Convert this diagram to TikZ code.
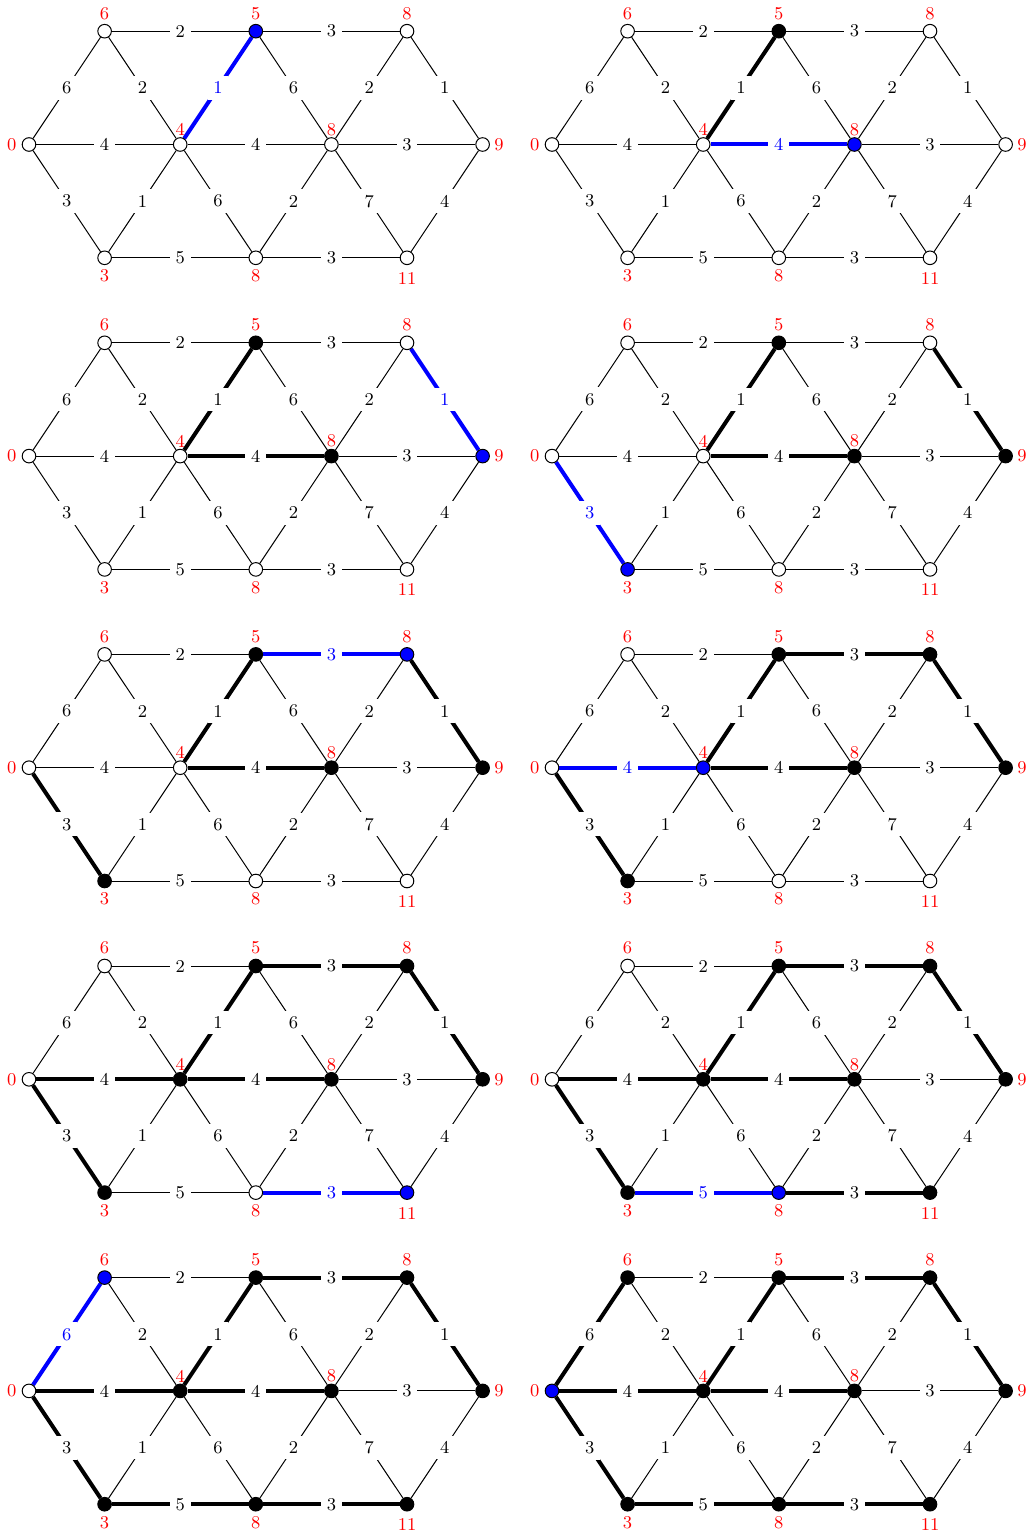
\documentclass[tikz,border=0pt]{standalone}
\pgfdeclarelayer{bg}
\pgfsetlayers{bg,main}
\newcommand\panelfont{\fontsize{9}{11}\selectfont}
\def\alledges{a/b/6, b/c/2, c/d/3, a/e/4, e/f/4, f/g/3, a/h/3, h/i/5, i/j/3, b/e/2, e/c/1, c/f/6, f/d/2, d/g/1, e/h/1, e/i/6, f/i/2, f/j/7, g/j/4}
\tikzset{
  vtx/.style={circle,draw=black,line width=0.5pt,fill=white,minimum size=6.8pt,inner sep=0pt},
  bv/.style={fill=black},
  blv/.style={fill=blue},
  rl/.style={text=red,inner sep=0pt,font=\panelfont},
  thinedge/.style={line width=0.5pt,black},
  thickedge/.style={line width=2pt,black},
  blueedge/.style={line width=2pt,blue},
  wlab/.style={fill=white,inner sep=2.9pt,font=\panelfont,text=black},
  bluelab/.style={wlab,text=blue},
  sa/.style={},sb/.style={},sc/.style={},sd/.style={},se/.style={},
  sf/.style={},sg/.style={},sh/.style={},si/.style={},sj/.style={}
}
\newcommand\drawpanel[5]{%
\begin{scope}[shift={(#2,#3)}]
\node[vtx,sa,label={[rl,label distance=2.5pt]left:0}] (#1a) at (0,0) {};
\node[vtx,sb,label={[rl,label distance=2pt]above:6}] (#1b) at (75.6,-113.3) {};
\node[vtx,sc,label={[rl,label distance=2pt]above:5}] (#1c) at (226.8,-113.3) {};
\node[vtx,sd,label={[rl,label distance=2pt]above:8}] (#1d) at (378,-113.3) {};
\node[vtx,se,label={[rl,label distance=0.6pt]above:4}] (#1e) at (151.2,0) {};
\node[vtx,sf,label={[rl,label distance=0.6pt]above:8}] (#1f) at (302.4,0) {};
\node[vtx,sg,label={[rl,label distance=2pt]right:9}] (#1g) at (453.6,0) {};
\node[vtx,sh,label={[rl,label distance=2.1pt]below:3}] (#1h) at (75.6,113.3) {};
\node[vtx,si,label={[rl,label distance=2.1pt]below:8}] (#1i) at (226.8,113.3) {};
\node[vtx,sj,label={[rl,label distance=3.35pt]below:11}] (#1j) at (378,113.3) {};
\def\tmpa{#4}\def\tmpb{#5}%
\begin{pgfonlayer}{bg}
\foreach \u/\v/\w in \alledges {\draw[thinedge] (#1\u) -- (#1\v);}
\ifx\tmpa\empty\else
\foreach \u/\v in {#4} {\draw[thickedge] (#1\u) -- (#1\v);}\fi
\ifx\tmpb\empty\else
\foreach \u/\v/\w in {#5} {\draw[blueedge] (#1\u) -- (#1\v);}\fi
\end{pgfonlayer}
\foreach \u/\v/\w in \alledges {\path (#1\u) -- node[wlab] (#1\u\v) {\w} (#1\v);}
\ifx\tmpb\empty\else
\foreach \u/\v/\w in {#5} {\path (#1\u) -- node[bluelab] (#1\u\v blue) {\w} (#1\v);}\fi
\end{scope}}
\begin{document}
\begin{tikzpicture}[x=0.5pt,y=-0.5pt]
\useasboundingbox (0,0) rectangle (1028,1534);
\begin{scope}\tikzset{sc/.style={blv}}
\drawpanel{p1}{29}{144.5}{}{e/c/1}\end{scope}
\begin{scope}\tikzset{sc/.style={bv},sf/.style={blv}}
\drawpanel{p2}{552}{144.5}{e/c}{e/f/4}\end{scope}
\begin{scope}\tikzset{sc/.style={bv},sf/.style={bv},sg/.style={blv}}
\drawpanel{p3}{29}{456.1}{e/c,e/f}{d/g/1}\end{scope}
\begin{scope}\tikzset{sc/.style={bv},sf/.style={bv},sg/.style={bv},sh/.style={blv}}
\drawpanel{p4}{552}{456.1}{e/c,e/f,d/g}{a/h/3}\end{scope}
\begin{scope}\tikzset{sc/.style={bv},sf/.style={bv},sg/.style={bv},sh/.style={bv},sd/.style={blv}}
\drawpanel{p5}{29}{767.7}{e/c,e/f,d/g,a/h}{c/d/3}\end{scope}
\begin{scope}\tikzset{sc/.style={bv},sf/.style={bv},sg/.style={bv},sh/.style={bv},sd/.style={bv},se/.style={blv}}
\drawpanel{p6}{552}{767.7}{e/c,e/f,d/g,a/h,c/d}{a/e/4}\end{scope}
\begin{scope}\tikzset{sc/.style={bv},sf/.style={bv},sg/.style={bv},sh/.style={bv},sd/.style={bv},se/.style={bv},sj/.style={blv}}
\drawpanel{p7}{29}{1079.3}{e/c,e/f,d/g,a/h,c/d,a/e}{i/j/3}\end{scope}
\begin{scope}\tikzset{sc/.style={bv},sf/.style={bv},sg/.style={bv},sh/.style={bv},sd/.style={bv},se/.style={bv},sj/.style={bv},si/.style={blv}}
\drawpanel{p8}{552}{1079.3}{e/c,e/f,d/g,a/h,c/d,a/e,i/j}{h/i/5}\end{scope}
\begin{scope}\tikzset{sc/.style={bv},sf/.style={bv},sg/.style={bv},sh/.style={bv},sd/.style={bv},se/.style={bv},sj/.style={bv},si/.style={bv},sb/.style={blv}}
\drawpanel{p9}{29}{1390.9}{e/c,e/f,d/g,a/h,c/d,a/e,i/j,h/i}{a/b/6}\end{scope}
\begin{scope}\tikzset{sc/.style={bv},sf/.style={bv},sg/.style={bv},sh/.style={bv},sd/.style={bv},se/.style={bv},sj/.style={bv},si/.style={bv},sb/.style={bv},sa/.style={blv}}
\drawpanel{p10}{552}{1390.9}{e/c,e/f,d/g,a/h,c/d,a/e,i/j,h/i,a/b}{}\end{scope}
\end{tikzpicture}
\end{document}
